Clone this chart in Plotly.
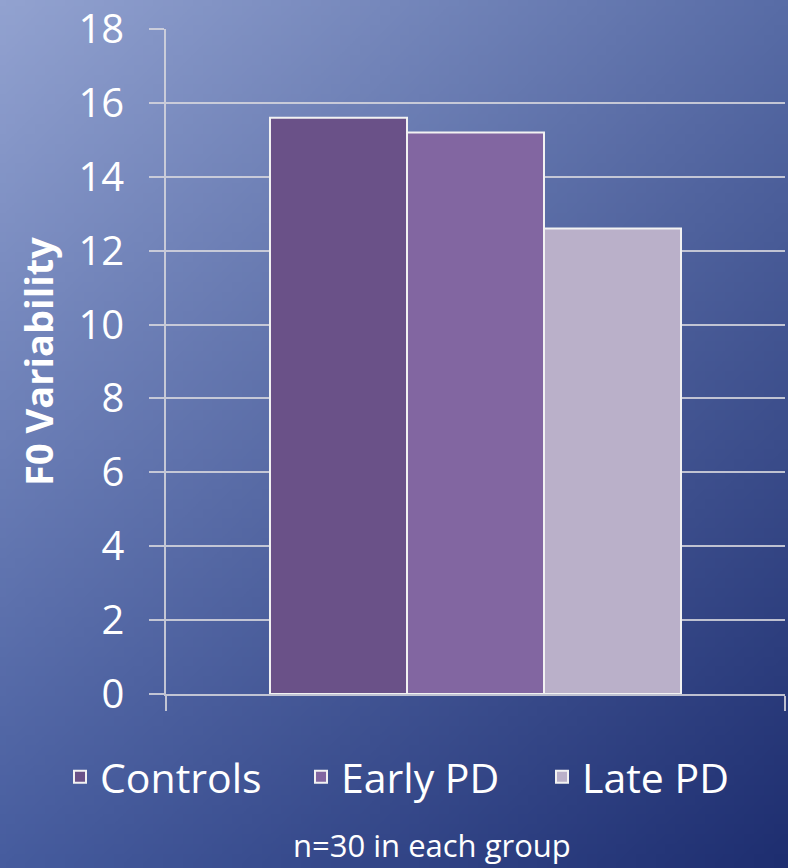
import base64, struct, zlib
import plotly.graph_objects as go

# ---- data ----
groups = ["Controls", "Early PD", "Late PD"]
values = [15.6, 15.2, 12.6]
colors = ["#6a5188", "#8266a1", "#bab0c9"]
category = ["All"]
y_ticks = [0, 2, 4, 6, 8, 10, 12, 14, 16, 18]
y_title = "F0 Variability"
footer = "n=30 in each group"

# ---- background gradient image (bilinear between corner colours) ----
TL, TR, BL, BR = (146, 162, 208), (88, 108, 166), (70, 92, 158), (30, 46, 112)
W, H = 80, 88
rows = []
for j in range(H):
    v = j / (H - 1)
    row = bytearray()
    for i in range(W):
        u = i / (W - 1)
        for c in range(3):
            top = TL[c] * (1 - u) + TR[c] * u
            bot = BL[c] * (1 - u) + BR[c] * u
            row.append(int(round(top * (1 - v) + bot * v)))
    rows.append(b"\x00" + bytes(row))

def chunk(tag, data):
    return struct.pack(">I", len(data)) + tag + data + struct.pack(">I", zlib.crc32(tag + data) & 0xffffffff)

png = b"\x89PNG\r\n\x1a\n" + chunk(b"IHDR", struct.pack(">IIBBBBB", W, H, 8, 2, 0, 0, 0)) \
    + chunk(b"IDAT", zlib.compress(b"".join(rows), 9)) + chunk(b"IEND", b"")
bg_uri = "data:image/png;base64," + base64.b64encode(png).decode()

FW, FH = 788, 868
ML, MR, MT, MB = 166, 3, 29, 174
PW, PH = FW - ML - MR, FH - MT - MB

fig = go.Figure()
for g, v, c in zip(groups, values, colors):
    fig.add_trace(go.Bar(
        x=category, y=[v], name=g,
        marker=dict(color=c, line=dict(color="#f2f2f2", width=2)),
    ))

font_family = "Open Sans, Lato, sans-serif"
grid_col = "rgba(215,215,222,0.85)"

fig.update_layout(
    width=FW, height=FH,
    margin=dict(l=ML, r=MR, t=MT, b=MB, autoexpand=False),
    paper_bgcolor="rgba(0,0,0,0)",
    plot_bgcolor="rgba(0,0,0,0)",
    barmode="group", bargap=0.336, bargroupgap=0,
    font=dict(family=font_family, color="white"),
    showlegend=True,
    legend=dict(orientation="h", x=(60 - ML) / PW, xanchor="left", y=-0.125, yanchor="middle",
                font=dict(size=41, color="white"), bgcolor="rgba(0,0,0,0)",
                itemwidth=30, entrywidth=196, traceorder="normal"),
    images=[dict(source=bg_uri, xref="paper", yref="paper",
                 x=-ML / PW, y=1 + MT / PH, sizex=FW / PW, sizey=FH / PH,
                 xanchor="left", yanchor="top", sizing="stretch", layer="below")],
    annotations=[dict(text=footer, xref="paper", yref="paper", x=0.43, y=-0.227,
                      xanchor="center", yanchor="middle", showarrow=False,
                      font=dict(size=31, color="white"))],
)
fig.update_yaxes(
    range=[0, 18], tickvals=y_ticks, showgrid=True, gridcolor=grid_col, gridwidth=1.5,
    ticks="outside", ticklen=15, tickcolor=grid_col, tickwidth=1.5,
    showline=True, linecolor=grid_col, linewidth=1.5, automargin=True,
    tickfont=dict(size=40, color="white"), ticklabelstandoff=17, ticklabeloverflow="allow",
    title=dict(text="<b>" + y_title + "</b>", font=dict(size=38, color="white"), standoff=13),
    zeroline=False,
)
fig.update_xaxes(
    showticklabels=False, showline=True, linecolor=grid_col, linewidth=1.5, automargin=False,
    ticks="outside", ticklen=15, tickcolor=grid_col, tickwidth=1.5, tickson="boundaries",
    showgrid=False,
)

fig.write_html("out.html", config={"displayModeBar": False},
               post_script="document.body.style.margin='0';")
